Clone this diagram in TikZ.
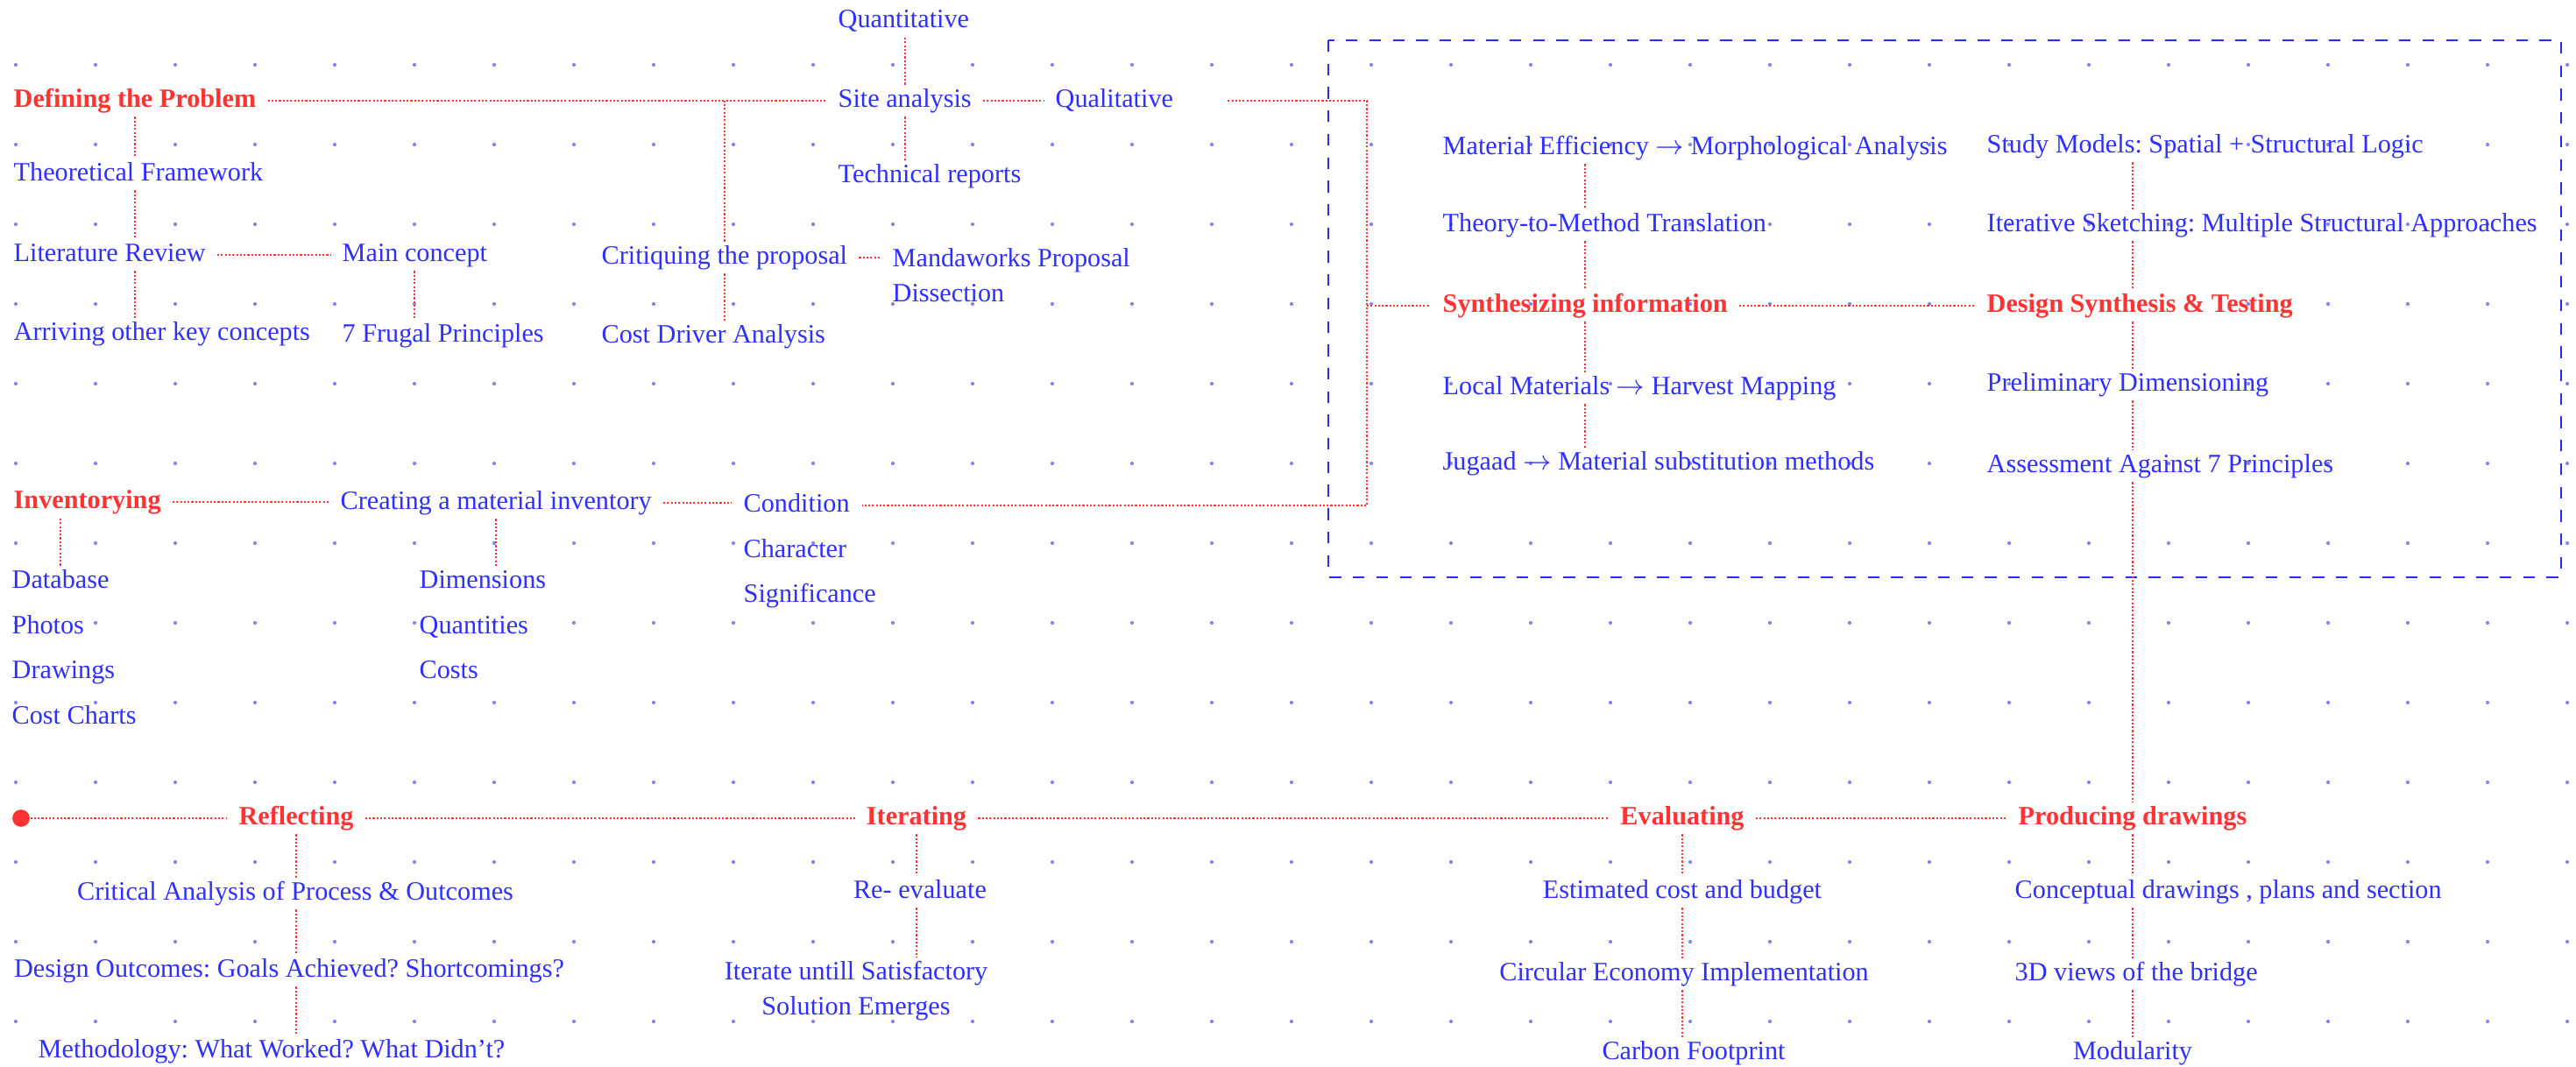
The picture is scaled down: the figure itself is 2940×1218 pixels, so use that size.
\documentclass[tikz,border=0pt]{standalone}
\usepackage{fontspec}
\setmainfont{Liberation Serif}
\usetikzlibrary{positioning}
\frenchspacing

\definecolor{inkred}{HTML}{FF3333}
\definecolor{inkblue}{HTML}{2F2FFF}
\definecolor{framebl}{HTML}{2A2AF5}
\definecolor{gridbl}{HTML}{8585F2}

\begin{document}
\begin{tikzpicture}[
    x=0.1mm, y=-0.1mm,
    node distance=4.2pt,
    item/.style={anchor=west, inner xsep=0pt, inner ysep=1pt,
                 text height=6.2pt, text depth=1.9pt,
                 font=\fontsize{8.6}{11.4}\selectfont, text=inkblue},
    multi/.style={inner xsep=0pt, inner ysep=1pt,
                  font=\fontsize{8.6}{11.4}\selectfont, text=inkblue},
    head/.style={item, text=inkred, font=\fontsize{8.6}{11.4}\selectfont\bfseries},
    link/.style={draw=inkred, line width=0.6pt, dash pattern=on 0.6pt off 0.62pt},
    hlink/.style={link, shorten <=3.6pt, shorten >=3.6pt},
    dashframe/.style={draw=framebl, line width=0.8pt, dash pattern=on 3.8pt off 3.8pt},
    griddot/.style={fill=gridbl},
    startdot/.style={circle, fill=inkred, minimum size=5.6pt, inner sep=0pt}
]
  \useasboundingbox (0,0) rectangle (2940,1218);

  % dot grid
  \foreach \c in {0,...,32}
    \foreach \r in {0,...,12}
      \fill[griddot] (18+91*\c, 74+91*\r) circle (0.6pt);

  % synthesis frame
  \draw[dashframe] (1516,46) rectangle (2923,659);

  % Defining the problem
  \node[head] (defn) at (15,115) {Defining the Problem};
  \node[item] (theo) at (15,199) {Theoretical Framework};
  \node[item] (lit) at (15,291) {Literature Review};
  \node[item] (arr) at (15,381) {Arriving other key concepts};
  \node[item] (mainc) at (390,291) {Main concept};
  \node[item] (frugal) at (390,383) {7 Frugal Principles};
  \node[item] (crit) at (686,294) {Critiquing the proposal};
  \node[multi, anchor=north west, align=left] (mand) at (1018,279) {Mandaworks Proposal\\Dissection};
  \node[item] (costd) at (686,384) {Cost Driver Analysis};
  \node[item] (quant) at (956,24) {Quantitative};
  \node[item] (site) at (956,115) {Site analysis};
  \node[item] (qual) at (1204,115) {Qualitative};
  \node[item] (tech) at (956,201) {Technical reports};

  \draw[hlink] (defn.east) -- (site.west);
  \draw[hlink] (site.east) -- (qual.west);
  \draw[link] (site.north) -- (quant.south -| site.north);
  \draw[link] (site.south) -- (tech.north -| site.south);
  \draw[link] (crit.north) -- (defn.east -| crit.north);
  \draw[link] (crit.south) -- (costd.north -| crit.south);
  \draw[link] (defn.south) -- (theo.north -| defn.south);
  \draw[link] (theo.south -| defn.south) -- (lit.north -| defn.south);
  \draw[link] (lit.south -| defn.south) -- (arr.north -| defn.south);
  \draw[hlink] (lit.east) -- (mainc.west);
  \draw[link] (mainc.south) -- (frugal.north -| mainc.south);
  \draw[hlink] (crit.east) -- (crit.east -| mand.west);

  % Inventorying
  \node[head] (inv) at (15,573) {Inventorying};
  \node[item] (creat) at (388,574) {Creating a material inventory};
  \node[item] (cond) at (848,577) {Condition};
  \node[item, below=of cond.south west, anchor=north west] (charc) {Character};
  \node[item, below=of charc.south west, anchor=north west] (signif) {Significance};
  \node[item] (db) at (13,664) {Database};
  \node[item, below=of db.south west, anchor=north west] (photos) {Photos};
  \node[item, below=of photos.south west, anchor=north west] (drawg) {Drawings};
  \node[item, below=of drawg.south west, anchor=north west] (charts) {Cost Charts};
  \node[item] (dims) at (478,664) {Dimensions};
  \node[item, below=of dims.south west, anchor=north west] (qtys) {Quantities};
  \node[item, below=of qtys.south west, anchor=north west] (costs) {Costs};

  \draw[hlink] (inv.east) -- (inv.east -| creat.west);
  \draw[hlink] (creat.east) -- (creat.east -| cond.west);
  \draw[link] (db.north) -- (inv.south -| db.north);
  \draw[link] (creat.south) -- (dims.north -| creat.south);

  % Synthesizing
  \node[item] (mateff) at (1646,169) {Material Efficiency $\rightarrow$ Morphological Analysis};
  \node[item] (theory) at (1646,257) {Theory-to-Method Translation};
  \node[head] (synth) at (1646,349) {Synthesizing information};
  \node[item] (local) at (1646,443) {Local Materials $\rightarrow$ Harvest Mapping};
  \node[item] (jugaad) at (1646,529) {Jugaad $\rightarrow$ Material substitution methods};

  \node[item] (study) at (2267,167) {Study Models: Spatial + Structural Logic};
  \node[item] (iters) at (2267,257) {Iterative Sketching: Multiple Structural Approaches};
  \node[head] (design) at (2267,349) {Design Synthesis \& Testing};
  \node[item] (prelim) at (2267,439) {Preliminary Dimensioning};
  \node[item] (assess) at (2267,532) {Assessment Against 7 Principles};

  \coordinate (bus) at (1560,349);
  \draw[link, shorten >=3.8pt] ([xshift=17.5pt]qual.east) -| (bus) |- (cond.east);
  \draw[link, shorten >=3.8pt] (bus) -- (synth.west);
  \draw[hlink] (synth.east) -- (design.west);

  \draw[link] (mateff.south -| synth) -- (theory.north -| synth);
  \draw[link] (theory.south -| synth) -- (synth.north);
  \draw[link] (synth.south) -- (local.north -| synth);
  \draw[link] (local.south -| synth) -- (jugaad.north -| synth);

  % Bottom line
  \node[startdot] (start) at (24,934) {};
  \node[head, anchor=center] (refl) at (338,934) {Reflecting};
  \node[head, anchor=center] (iter) at (1046,934) {Iterating};
  \node[head, anchor=center] (eval) at (1920,934) {Evaluating};
  \node[head, anchor=center] (prod) at (2434,934) {Producing drawings};

  \draw[link, shorten >=3.6pt] (start) -- (refl.west);
  \draw[hlink] (refl.east) -- (iter.west);
  \draw[hlink] (iter.east) -- (eval.west);
  \draw[hlink] (eval.east) -- (prod.west);

  \draw[link] (study.south -| prod) -- (iters.north -| prod);
  \draw[link] (iters.south -| prod) -- (design.north -| prod);
  \draw[link] (design.south -| prod) -- (prelim.north -| prod);
  \draw[link] (prelim.south -| prod) -- (assess.north -| prod);
  \draw[link] (assess.south -| prod) -- (prod.north);

  \node[item, anchor=center] (crita) at (337,1020) {Critical Analysis of Process \& Outcomes};
  \node[item, anchor=center] (goals) at (330,1108) {Design Outcomes: Goals Achieved? Shortcomings?};
  \node[item, anchor=center] (meth) at (310,1200) {Methodology: What Worked? What Didn't?};
  \draw[link] (refl.south) -- (crita.north -| refl);
  \draw[link] (crita.south -| refl) -- (goals.north -| refl);
  \draw[link] (goals.south -| refl) -- (meth.north -| refl);

  \node[item, anchor=center] (reeval) at (1050,1018) {Re- evaluate};
  \node[multi, anchor=north, align=center] (untill) at (977,1093) {Iterate untill Satisfactory\\Solution Emerges};
  \draw[link] (iter.south) -- (reeval.north -| iter);
  \draw[link] (reeval.south -| iter) -- (untill.north -| iter);

  \node[item, anchor=center] (estc) at (1920,1018) {Estimated cost and budget};
  \node[item, anchor=center] (circ) at (1922,1112) {Circular Economy Implementation};
  \node[item, anchor=center] (carb) at (1933,1202) {Carbon Footprint};
  \draw[link] (eval.south) -- (estc.north -| eval);
  \draw[link] (estc.south -| eval) -- (circ.north -| eval);
  \draw[link] (circ.south -| eval) -- (carb.north -| eval);

  \node[item] (concd) at (2299,1018) {Conceptual drawings , plans and section};
  \node[item] (views) at (2299,1112) {3D views of the bridge};
  \node[item, anchor=center] (modul) at (2434,1202) {Modularity};
  \draw[link] (prod.south) -- (concd.north -| prod);
  \draw[link] (concd.south -| prod) -- (views.north -| prod);
  \draw[link] (views.south -| prod) -- (modul.north);
\end{tikzpicture}
\end{document}
